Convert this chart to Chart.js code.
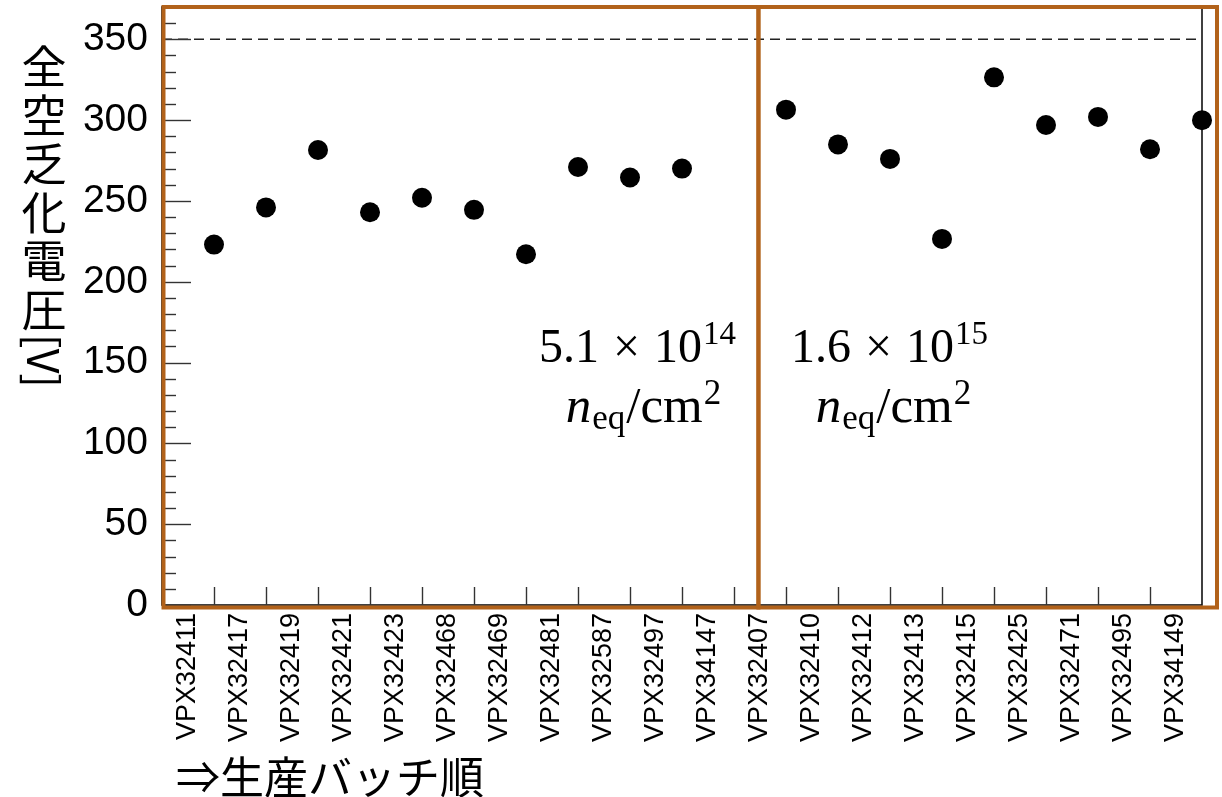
<!DOCTYPE html>
<html>
<head>
<meta charset="utf-8">
<script src="https://cdn.jsdelivr.net/npm/chart.js@4.4.1/dist/chart.umd.min.js"></script>
<style>
  html, body { margin: 0; padding: 0; background: #fff; }
  #c { display: block; }
</style>
</head>
<body>
<canvas id="c" width="1222" height="797"></canvas>
<script>
// Sensor batches in production order
const batches = [
  'VPX32411', 'VPX32417', 'VPX32419', 'VPX32421', 'VPX32423',
  'VPX32468', 'VPX32469', 'VPX32481', 'VPX32587', 'VPX32497',
  'VPX34147', 'VPX32407', 'VPX32410', 'VPX32412', 'VPX32413',
  'VPX32415', 'VPX32425', 'VPX32471', 'VPX32495', 'VPX34149'
];
// Full depletion voltage [V] at each batch boundary position (1..20); null = no measurement
const depletionVoltage = [
  223, 246, 281.5, 243, 252, 244.5, 217, 271, 264.5, 270,
  null, 306.5, 285, 276, 226.5, 326.5, 297, 302, 282, 300
];
const yMax = 370;
const yMajorStep = 50;
const yMinorStep = 10;
const referenceVoltage = 350;
const fluenceLeft = { mant: '5.1', exp: '14' };
const fluenceRight = { mant: '1.6', exp: '15' };
const yTitleChars = ['全', '空', '乏', '化', '電', '圧'];
const yTitleUnit = '[V]';
const xTitle = '⇒生産バッチ順';

const points = depletionVoltage
  .map((v, i) => ({ x: i + 1, y: v }))
  .filter(p => p.y !== null);

const BROWN = '#b2621a';
const SANS = "'Liberation Sans', Arial, sans-serif";
const SERIF = "'Liberation Serif', 'Times New Roman', serif";
const CJK = "'Noto Sans CJK JP', 'Noto Sans', sans-serif";

function drawMath(ctx, parts, cx, baseline) {
  let total = 0;
  const w = parts.map(p => {
    ctx.font = p.font;
    const m = ctx.measureText(p.t).width;
    total += (p.dx || 0) + m;
    return m;
  });
  let x = cx - total / 2;
  ctx.textAlign = 'left';
  ctx.textBaseline = 'alphabetic';
  parts.forEach((p, i) => {
    x += p.dx || 0;
    ctx.font = p.font;
    ctx.fillText(p.t, x, baseline + (p.dy || 0));
    x += w[i];
  });
}

const framePlugin = {
  id: 'frame',
  beforeDatasetsDraw(chart) {
    const { ctx, chartArea: a, scales } = chart;
    const xs = scales.x, ys = scales.y;
    ctx.save();
    // dashed reference line
    ctx.strokeStyle = '#222';
    ctx.lineWidth = 1.5;
    ctx.setLineDash([10, 6]);
    const yr = ys.getPixelForValue(referenceVoltage);
    ctx.beginPath();
    ctx.moveTo(a.left, yr);
    ctx.lineTo(a.right, yr);
    ctx.stroke();
    ctx.setLineDash([]);
    // plot frame
    ctx.strokeStyle = '#111';
    ctx.lineWidth = 1.6;
    ctx.strokeRect(a.left, a.top, a.right - a.left, a.bottom - a.top);
    // inward y ticks
    ctx.lineWidth = 1.4;
    ctx.strokeStyle = '#333';
    for (let v = 0; v <= yMax; v += yMinorStep) {
      const y = Math.round(ys.getPixelForValue(v)) + 0.5;
      const len = v % yMajorStep === 0 ? 29 : 14;
      ctx.beginPath();
      ctx.moveTo(a.left, y);
      ctx.lineTo(a.left + len, y);
      ctx.stroke();
    }
    // inward x ticks at batch boundaries
    for (let i = 1; i < batches.length; i++) {
      const x = Math.round(xs.getPixelForValue(i)) + 0.5;
      ctx.beginPath();
      ctx.moveTo(x, a.bottom);
      ctx.lineTo(x, a.bottom - 18);
      ctx.stroke();
    }
    ctx.restore();
  },
  afterDraw(chart) {
    const { ctx, chartArea: a, scales } = chart;
    const xs = scales.x;
    ctx.save();
    // group boxes
    const divider = xs.getPixelForValue(11.47);
    ctx.strokeStyle = BROWN;
    ctx.lineWidth = 4;
    const top = a.top, bottom = a.bottom + 2.5;
    ctx.strokeRect(a.left + 1.5, top, divider - a.left - 1.5, bottom - top);
    ctx.strokeRect(divider, top, a.right + 15 - divider, bottom - top);

    // fluence annotations
    ctx.fillStyle = '#000';
    const main = `48px ${SERIF}`, sup = `33px ${SERIF}`;
    const main2 = `51px ${SERIF}`, it2 = `italic 51px ${SERIF}`, sub2 = `35px ${SERIF}`;
    const line1 = f => [
      { t: f.mant, font: main },
      { t: '×', font: main, dx: 14 },
      { t: '10', font: main, dx: 14 },
      { t: f.exp, font: sup, dy: -18, dx: 1 }
    ];
    const line2 = [
      { t: 'n', font: it2 },
      { t: 'eq', font: sub2, dy: 7, dx: 1 },
      { t: '/cm', font: main2, dx: 1 },
      { t: '2', font: sub2, dy: -18, dx: 1 }
    ];
    drawMath(ctx, line1(fluenceLeft), divider - 121, 362);
    drawMath(ctx, line2, divider - 115, 422);
    drawMath(ctx, line1(fluenceRight), divider + 131, 362);
    drawMath(ctx, line2, divider + 135, 422);

    // vertical y-axis title
    ctx.font = `45px ${CJK}`;
    ctx.textAlign = 'center';
    ctx.textBaseline = 'middle';
    yTitleChars.forEach((ch, i) => ctx.fillText(ch, 44, 67 + i * 48.5));
    ctx.save();
    ctx.translate(43, 361);
    ctx.rotate(Math.PI / 2);
    ctx.font = `43px ${CJK}`;
    ctx.fillText(yTitleUnit, 0, 0);
    ctx.restore();

    // x-axis title
    ctx.font = `44px ${CJK}`;
    ctx.textAlign = 'left';
    ctx.fillText(xTitle, 176, 777);
    ctx.restore();
  }
};

new Chart(document.getElementById('c'), {
  type: 'scatter',
  data: {
    datasets: [{
      data: points,
      xAxisID: 'x',
      yAxisID: 'y',
      backgroundColor: '#000',
      borderColor: '#000',
      pointRadius: 10,
      pointHoverRadius: 10,
      borderWidth: 0,
      showLine: false,
      clip: false
    }]
  },
  options: {
    responsive: false,
    animation: false,
    devicePixelRatio: 1,
    layout: { autoPadding: false, padding: { top: 7, right: 20, left: 0, bottom: 0 } },
    plugins: { legend: { display: false }, tooltip: { enabled: false } },
    scales: {
      x: {
        type: 'linear',
        display: false,
        min: 0,
        max: batches.length
      },
      batch: {
        type: 'category',
        position: 'bottom',
        labels: batches,
        offset: true,
        grid: { display: false, drawTicks: false },
        border: { display: false },
        ticks: {
          autoSkip: false,
          minRotation: 90,
          maxRotation: 90,
          padding: 8,
          color: '#000',
          font: { family: SANS, size: 27 }
        },
        afterFit(scale) {
          scale.height = 192;
          scale.paddingLeft = 0;
          scale.paddingRight = 0;
        }
      },
      y: {
        type: 'linear',
        min: 0,
        max: yMax,
        grid: { display: false, drawTicks: false },
        border: { display: false },
        ticks: {
          stepSize: yMajorStep,
          includeBounds: false,
          padding: 14,
          color: '#000',
          font: { family: SANS, size: 39 }
        },
        afterFit(scale) {
          scale.width = 162;
          scale.paddingTop = 0;
          scale.paddingBottom = 0;
        }
      }
    }
  },
  plugins: [framePlugin]
});
</script>
</body>
</html>
